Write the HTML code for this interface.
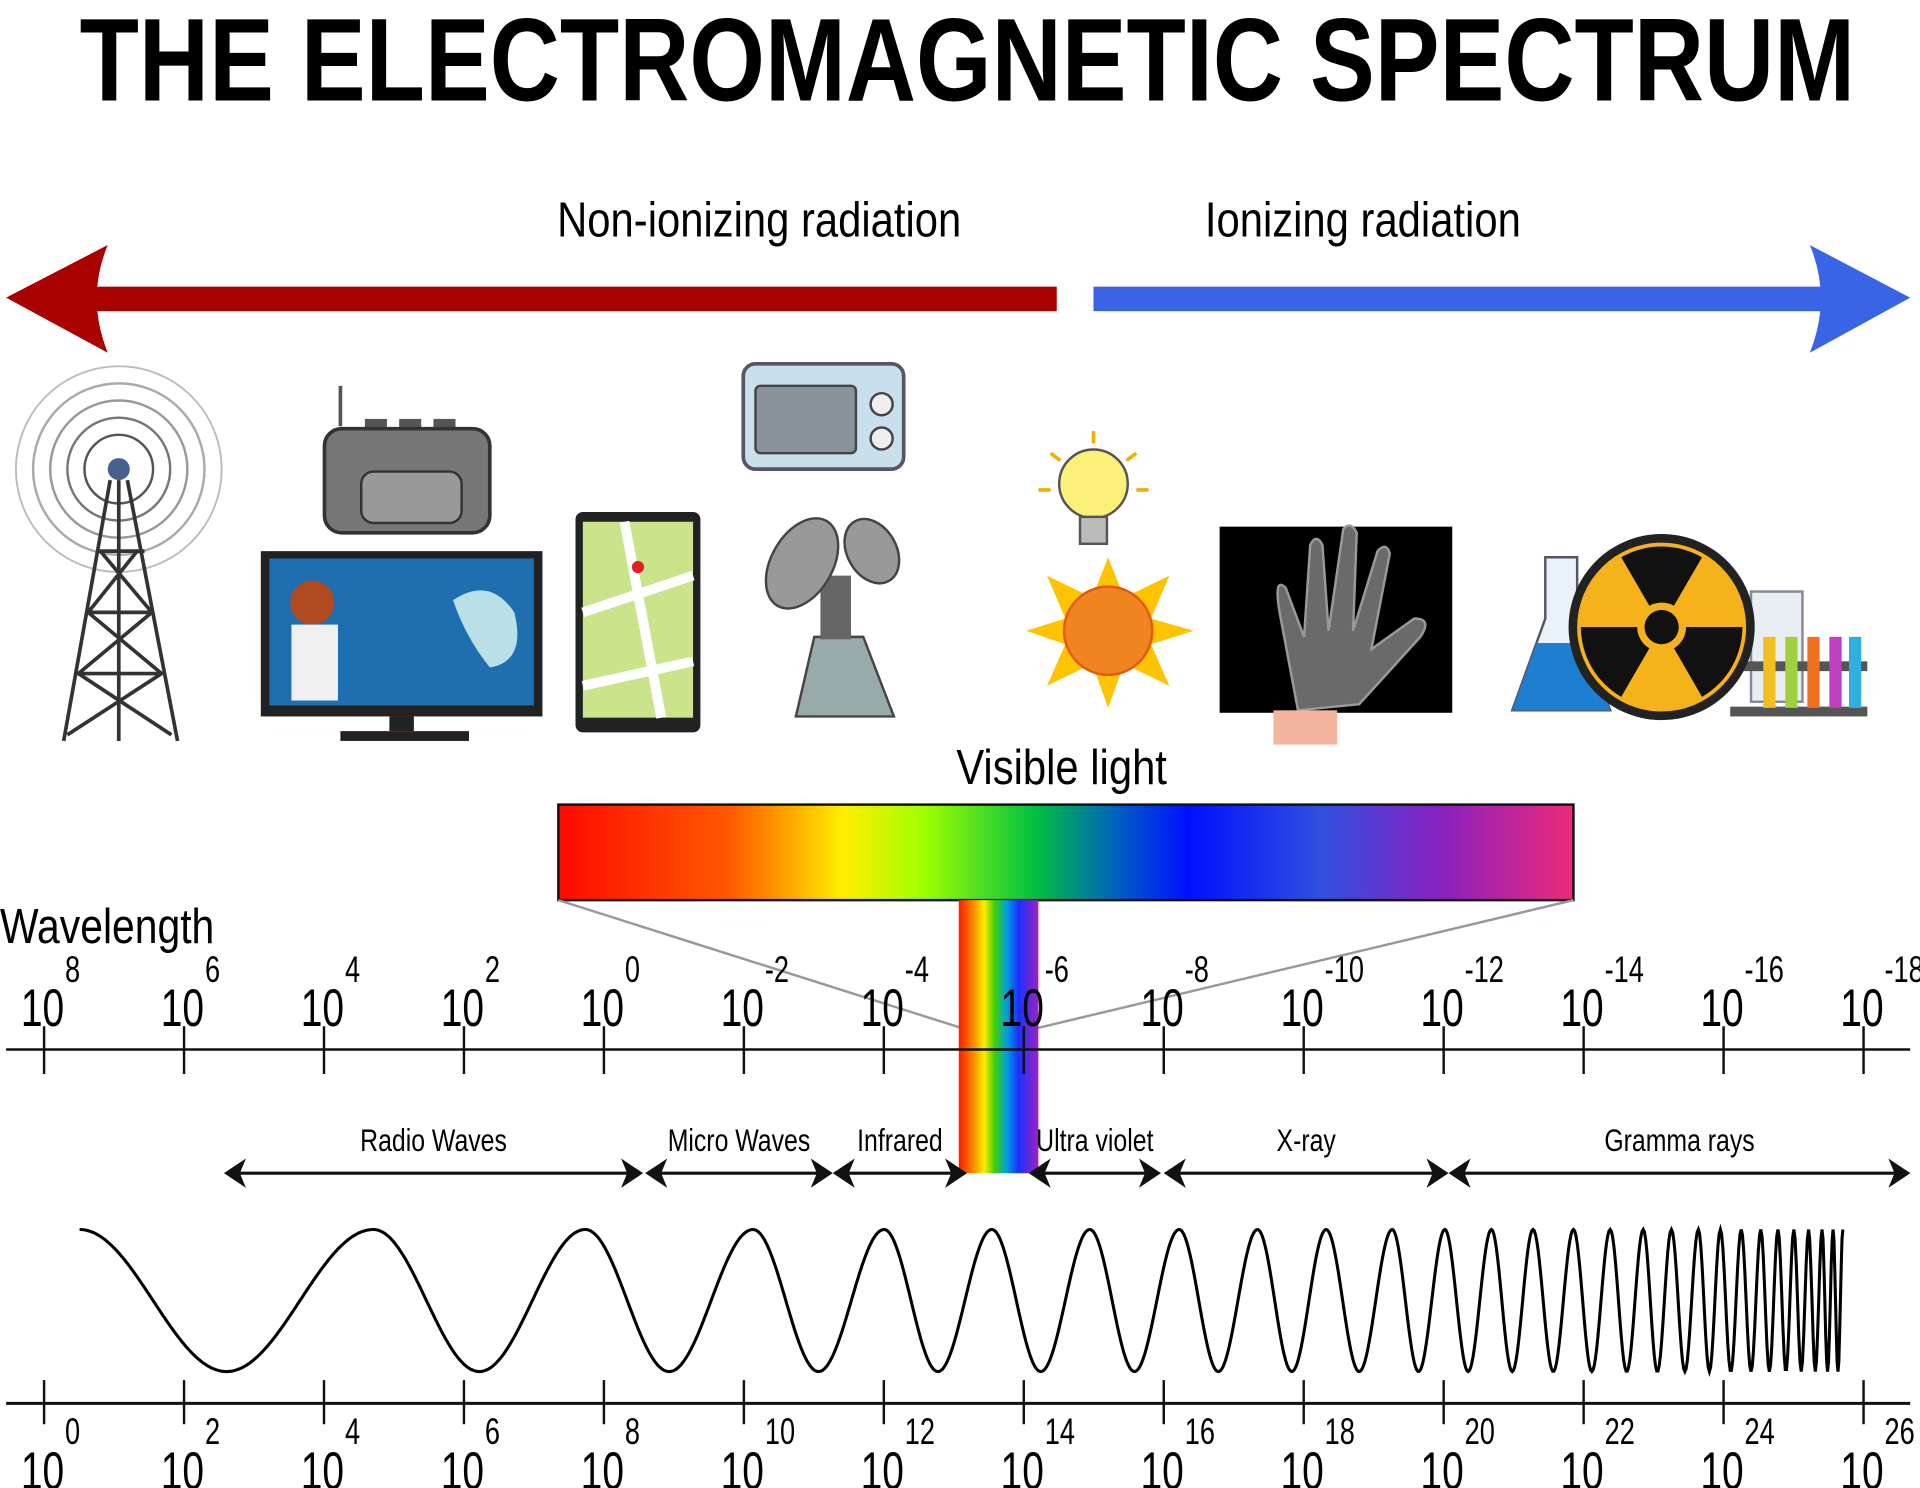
<!DOCTYPE html>
<html><head><meta charset="utf-8"><style>
html,body{margin:0;padding:0;background:#fff;}
svg{display:block;}
text{font-family:"Liberation Sans",sans-serif;}
</style></head><body>
<svg id="chart" width="1920" height="1488" viewBox="0 0 1568 1215" xmlns="http://www.w3.org/2000/svg">
<defs>
<linearGradient id="rainbow" x1="0" x2="1" y1="0" y2="0">
<stop offset="0" stop-color="#ff0a00"/><stop offset="0.17" stop-color="#ff5a00"/><stop offset="0.28" stop-color="#ffee00"/>
<stop offset="0.36" stop-color="#a0ff00"/><stop offset="0.47" stop-color="#00c040"/><stop offset="0.55" stop-color="#0060c0"/>
<stop offset="0.62" stop-color="#0010ff"/><stop offset="0.75" stop-color="#3050e0"/><stop offset="0.87" stop-color="#8a20c0"/><stop offset="1" stop-color="#ee2a7a"/>
</linearGradient>
<linearGradient id="vband" x1="0" x2="1" y1="0" y2="0">
<stop offset="0" stop-color="#ff1a00"/><stop offset="0.18" stop-color="#ff8800"/><stop offset="0.32" stop-color="#ffee00"/>
<stop offset="0.45" stop-color="#40d000"/><stop offset="0.6" stop-color="#00a0e0"/><stop offset="0.75" stop-color="#1a30ff"/><stop offset="1" stop-color="#a020c0"/>
</linearGradient>
</defs>
<text x="790" y="82" text-anchor="middle" font-size="96" font-weight="bold" textLength="1450" lengthAdjust="spacingAndGlyphs">THE ELECTROMAGNETIC SPECTRUM</text>
<text x="620" y="193" text-anchor="middle" font-size="40" textLength="330" lengthAdjust="spacingAndGlyphs">Non-ionizing radiation</text>
<text x="1113" y="193" text-anchor="middle" font-size="40" textLength="258" lengthAdjust="spacingAndGlyphs">Ionizing radiation</text>
<g>
<rect x="70" y="234" width="793" height="20" fill="#a90000"/>
<path d="M5 243 L88 200 Q70 243 88 288 Z" fill="#a90000"/>
</g>
<g>
<rect x="893" y="234" width="610" height="20" fill="#3a64e6"/>
<path d="M1560 243 L1478 200 Q1496 243 1478 288 Z" fill="#3a64e6"/>
</g>
<g fill="none" stroke="#333" stroke-width="2">
<circle cx="97" cy="383" r="84" stroke="#bbb" stroke-width="1.5"/><circle cx="97" cy="383" r="70" stroke="#aaa"/>
<circle cx="97" cy="383" r="56" stroke="#999"/><circle cx="97" cy="383" r="42" stroke="#777"/><circle cx="97" cy="383" r="28" stroke="#555"/>
<path d="M90 392 L52 605 M104 392 L145 605 M97 392 V605 M80 450 L118 450 M72 500 L124 500 M64 550 L132 550 M82 450 L124 500 L64 550 L140 600 M112 450 L72 500 L132 550 L55 600" stroke-width="3"/>
<circle cx="97" cy="383" r="9" fill="#46628c" stroke="none"/>
</g>
<g>
<line x1="278" y1="315" x2="278" y2="348" stroke="#555" stroke-width="3"/>
<rect x="298" y="342" width="18" height="12" fill="#555"/><rect x="326" y="342" width="18" height="12" fill="#555"/><rect x="354" y="342" width="18" height="12" fill="#555"/>
<rect x="265" y="350" width="135" height="85" rx="14" fill="#777" stroke="#333" stroke-width="3"/>
<rect x="295" y="385" width="82" height="42" rx="10" fill="#999" stroke="#333" stroke-width="2"/>
</g>
<g>
<rect x="213" y="450" width="230" height="135" fill="#222"/>
<rect x="220" y="456" width="216" height="120" fill="#1f6fb0"/>
<path d="M370 490 Q400 470 420 500 Q430 540 400 545 Q380 520 370 490Z" fill="#b9e0e8"/>
<circle cx="255" cy="492" r="18" fill="#b24a1f"/><rect x="238" y="510" width="38" height="62" fill="#f0f0f0"/>
<rect x="318" y="585" width="20" height="12" fill="#222"/><rect x="278" y="597" width="105" height="8" fill="#222"/>
</g>
<g>
<rect x="470" y="418" width="102" height="180" rx="6" fill="#222"/>
<rect x="476" y="426" width="90" height="160" fill="#c9e48a"/>
<path d="M476 500 L566 470 M510 426 L540 586 M476 560 L566 540" stroke="#fff" stroke-width="8"/>
<circle cx="521" cy="463" r="5" fill="#e02020"/>
</g>
<g>
<rect x="607" y="297" width="131" height="86" rx="10" fill="#c9e0ec" stroke="#556" stroke-width="3"/>
<rect x="617" y="315" width="82" height="55" rx="4" fill="#8a939a" stroke="#444" stroke-width="2"/>
<circle cx="720" cy="330" r="9" fill="#eee" stroke="#444" stroke-width="2"/><circle cx="720" cy="358" r="9" fill="#eee" stroke="#444" stroke-width="2"/>
</g>
<g>
<path d="M650 585 L665 520 L705 520 L730 585 Z" fill="#9aa" stroke="#444" stroke-width="2"/>
<rect x="670" y="470" width="25" height="52" fill="#666"/>
<ellipse cx="655" cy="460" rx="25" ry="40" fill="#999" stroke="#444" stroke-width="2" transform="rotate(30 655 460)"/>
<ellipse cx="712" cy="450" rx="20" ry="28" fill="#999" stroke="#444" stroke-width="2" transform="rotate(-30 712 450)"/>
</g>
<g>
<circle cx="893" cy="395" r="28" fill="#fbf07a" stroke="#555" stroke-width="2"/>
<rect x="882" y="422" width="22" height="22" fill="#bbb" stroke="#555" stroke-width="2"/>
<path d="M893 352 V362 M858 370 L866 376 M928 370 L920 376 M848 400 H858 M928 400 H938" stroke="#f0b000" stroke-width="3"/>
</g>
<g>
<polygon points="905,455 918,488 955,470 940,505 975,515 940,526 955,560 918,542 905,578 892,542 855,560 870,526 838,515 870,505 855,470 892,488" fill="#ffc400"/>
<circle cx="905" cy="515" r="36" fill="#f0841e" stroke="#e05a10" stroke-width="2"/>
</g>
<g>
<rect x="996" y="430" width="190" height="152" fill="#000"/>
<path d="M1060 580 L1045 500 Q1040 470 1050 480 L1065 520 L1070 445 Q1075 435 1080 445 L1085 515 L1097 432 Q1103 425 1108 435 L1105 515 L1125 450 Q1132 442 1135 452 L1120 530 L1155 505 Q1170 505 1160 520 L1110 575 Z" fill="#6a6a6a" stroke="#999" stroke-width="2"/>
<rect x="1040" y="580" width="52" height="28" fill="#f3b5a0"/>
</g>
<g>
<path d="M1262 455 H1288 V505 L1315 580 H1235 L1262 505 Z" fill="#e8f2f8" stroke="#556" stroke-width="2"/>
<path d="M1255 525 H1295 L1315 580 H1235 Z" fill="#1e7fd0"/>
</g>
<g>
<rect x="1430" y="483" width="42" height="90" fill="#e8eef2" stroke="#889" stroke-width="2"/>
<rect x="1413" y="540" width="112" height="8" fill="#555"/><rect x="1413" y="577" width="112" height="8" fill="#555"/>
<rect x="1440" y="520" width="10" height="58" fill="#f0c020"/><rect x="1458" y="520" width="10" height="58" fill="#a0d040"/>
<rect x="1476" y="520" width="10" height="58" fill="#f07020"/><rect x="1494" y="520" width="10" height="58" fill="#c040c0"/><rect x="1510" y="520" width="10" height="58" fill="#30b0e0"/>
</g>
<g>
<circle cx="1357" cy="512" r="76" fill="#222"/>
<circle cx="1357" cy="512" r="69" fill="#f6b21a"/>
<path d="M1357 512 L1390 455 A66 66 0 0 0 1324 455 Z M1357 512 L1423 512 A66 66 0 0 1 1390 569 Z M1357 512 L1324 569 A66 66 0 0 1 1291 512 Z" fill="#111"/>
<circle cx="1357" cy="512" r="20" fill="#f6b21a"/><circle cx="1357" cy="512" r="14" fill="#111"/>
</g>
<text x="867" y="640" text-anchor="middle" font-size="40" textLength="172" lengthAdjust="spacingAndGlyphs">Visible light</text>
<rect x="456" y="657" width="829" height="78" fill="url(#rainbow)" stroke="#111" stroke-width="2"/>
<path d="M456 735 L787 840 M1285 735 L845 840" stroke="#999" stroke-width="2" fill="none"/>
<text x="0" y="770" font-size="40" textLength="175" lengthAdjust="spacingAndGlyphs">Wavelength</text>
<rect x="783" y="735" width="65" height="223" fill="url(#vband)"/>
<g id="top-axis"></g>
<g id="bands"></g>
<path id="wave" fill="none" stroke="#000" stroke-width="2.5"/>
<g id="bottom-axis"></g>
</svg>
<script>
const wavelengthExponents = [8,6,4,2,0,-2,-4,-6,-8,-10,-12,-14,-16,-18];
const frequencyExponents = [0,2,4,6,8,10,12,14,16,18,20,22,24,26];
const bandNames = ["Radio Waves","Micro Waves","Infrared","Ultra violet","X-ray","Gramma rays"];
const bandStart = [5.43,-0.59,-3.27,-6.07,-8.0,-12.07];
const bandEnd = [-0.56,-3.27,-5.19,-7.96,-12.07,-18.67];
const wavePeaks = [65,305,478,615,722,810,890,963,1027,1083,1137,1180,1218,1252,1285,1315,1342,1365,1387,1405,1422,1438,1452,1465,1477,1488,1497,1505];

const NS="http://www.w3.org/2000/svg";
function mk(tag,attrs,parent){const e=document.createElementNS(NS,tag);for(const k in attrs)e.setAttribute(k,attrs[k]);parent.appendChild(e);return e;}
const x0=36, step=114.3;
function xWave(e){return x0+(8-e)/2*step;}
function xFreq(e){return x0+e/2*step;}

const topAxis=document.getElementById('top-axis');
let ln=mk('line',{x1:5,y1:857,x2:1560,y2:857,stroke:'#111','stroke-width':2},topAxis);


wavelengthExponents.forEach(e=>{
  const x=xWave(e);
  const t=mk('line',{x1:x,y1:838,x2:x,y2:877,stroke:'#111','stroke-width':2},topAxis);
  
  
  const lb=mk('text',{x:0,y:0,'font-size':43,transform:`translate(${x-19},838) scale(0.74,1)`},topAxis);
  
  
  lb.textContent='10';
  const sp=mk('tspan',{dx:1,dy:-36,'font-size':30},lb);
  sp.textContent=String(e);
});

const bandsG=document.getElementById('bands');
bandNames.forEach((n,i)=>{
  const a=xWave(bandStart[i]), b=xWave(bandEnd[i]);
  const g=mk('g',{},bandsG);
  
  
  mk('line',{x1:a+6,y1:958,x2:b-6,y2:958,stroke:'#111','stroke-width':2.5},g);
  mk('path',{d:`M${a} 958 l18 -12 l-5 12 l5 12 Z M${b} 958 l-18 -12 l5 12 l-5 12 Z`,fill:'#111'},g);
  const lb=mk('text',{x:0,y:0,'text-anchor':'middle','font-size':26,transform:`translate(${(a+b)/2},940) scale(0.78,1)`},g);
  
  
  lb.textContent=n;
});
const yTop=1004, yBot=1120, yc=(yTop+yBot)/2, amp=(yBot-yTop)/2;
let d='';
for(let i=0;i<wavePeaks.length-1;i++){
  const a=wavePeaks[i], b=wavePeaks[i+1];
  const n=Math.max(12,Math.round((b-a)));
  for(let k=(i===0?0:1);k<=n;k++){
    const t=k/n, x=a+(b-a)*t, y=yc-amp*Math.cos(2*Math.PI*t);
    d+=(d?'L':'M')+x.toFixed(1)+' '+y.toFixed(1);
  }
}
document.getElementById('wave').setAttribute('d',d);

const bot=document.getElementById('bottom-axis');
ln=mk('line',{x1:5,y1:1146,x2:1560,y2:1146,stroke:'#111','stroke-width':2.5},bot);


frequencyExponents.forEach(e=>{
  const x=xFreq(e);
  const t=mk('line',{x1:x,y1:1127,x2:x,y2:1163,stroke:'#111','stroke-width':2},bot);
  
  
  const lb=mk('text',{x:0,y:0,'font-size':43,transform:`translate(${x-19},1216) scale(0.74,1)`},bot);
  
  
  lb.textContent='10';
  const sp=mk('tspan',{dx:1,dy:-37,'font-size':30},lb);
  sp.textContent=String(e);
});
</script>
</body></html>
